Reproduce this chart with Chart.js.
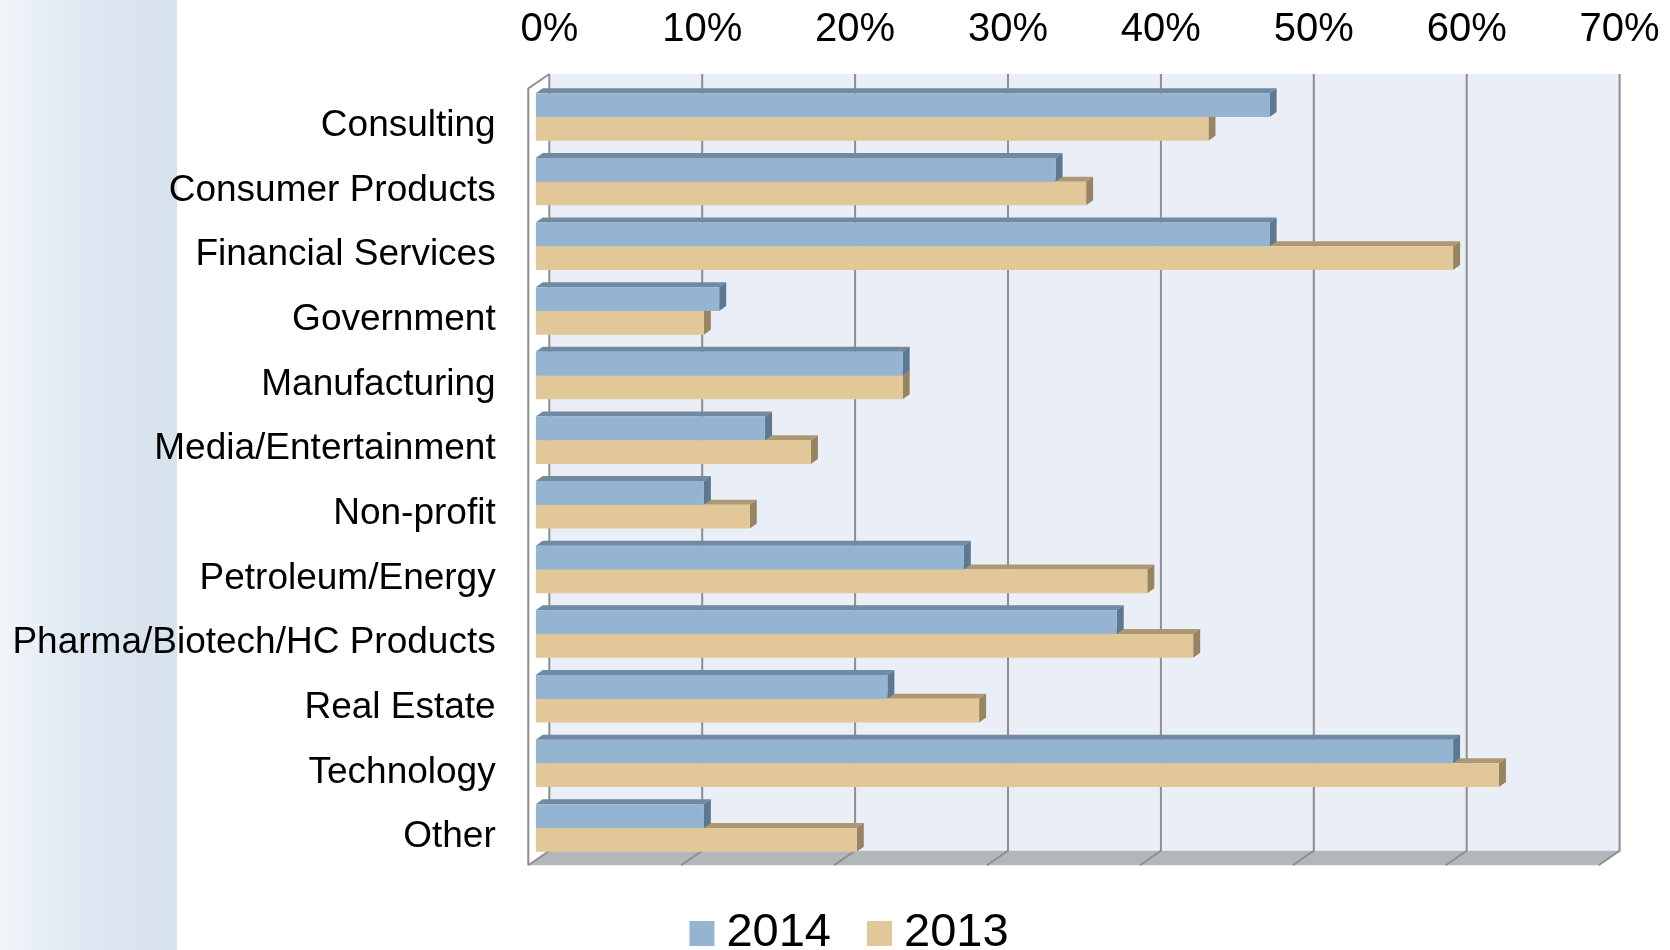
<!DOCTYPE html>
<html lang="en">
<head>
    <meta charset="UTF-8">
    <title>Industries 2014 vs 2013</title>
    <script src="https://cdn.jsdelivr.net/npm/chart.js"></script>
    <style>
        html, body {
            margin: 0;
            padding: 0;
            background: #ffffff;
            overflow: hidden;
        }
        .side-panel {
            position: absolute;
            left: 0;
            top: 0;
            width: 177px;
            height: 950px;
            background: linear-gradient(to right, #f1f5f9 0%, #dde7f1 50%, #d6e2ed 100%);
        }
        .wrap {
            position: relative;
            width: 1670px;
            height: 950px;
        }
    </style>
</head>
<body>
    <div class="side-panel"></div>
    <div class="wrap"><canvas id="industryChart"></canvas></div>

    <script>
        const industries = [
            'Consulting', 'Consumer Products', 'Financial Services', 'Government',
            'Manufacturing', 'Media/Entertainment', 'Non-profit', 'Petroleum/Energy',
            'Pharma/Biotech/HC Products', 'Real Estate', 'Technology', 'Other'
        ];
        const years = ['2014', '2013'];
        const share2014 = [48, 34, 48, 12, 24, 15, 11, 28, 38, 23, 60, 11];
        const share2013 = [44, 36, 60, 11, 24, 18, 14, 40, 43, 29, 63, 21];
        const axisMax = 70;
        const axisStep = 10;

        // front / top / side shades for the pseudo-3D bars
        const shades = [
            { front: '#94b4d2', top: '#7189a1', side: '#5f7892' },
            { front: '#e2c799', top: '#ae9873', side: '#978461' }
        ];

        // offsets from the bar plane to the back wall, the front edge and the bar depth
        const D = { backDx: 13.6, backDy: -9.5, frontDx: -7.4, frontDy: 5, barDx: 7, barDy: -5 };

        Chart.defaults.font.family = '"Liberation Sans", Arial, sans-serif';

        function poly(ctx, pts) {
            ctx.beginPath();
            ctx.moveTo(pts[0][0], pts[0][1]);
            for (let i = 1; i < pts.length; i++) ctx.lineTo(pts[i][0], pts[i][1]);
            ctx.closePath();
            ctx.fill();
        }

        const box3d = {
            id: 'box3d',
            beforeDatasetsDraw(chart) {
                const { ctx, chartArea: area, scales: { x } } = chart;
                const left = x.getPixelForValue(x.min);
                const right = x.getPixelForValue(x.max);
                const wallTop = area.top - 1.2;
                const backTop = wallTop + D.backDy, backBottom = area.bottom + D.backDy;
                const frontTop = wallTop + D.frontDy, frontBottom = area.bottom + D.frontDy;

                ctx.save();
                // back wall
                ctx.fillStyle = '#eaeff7';
                ctx.fillRect(left + D.backDx, backTop, right - left, backBottom - backTop);

                // floor
                ctx.fillStyle = '#b2b7bc';
                poly(ctx, [
                    [left + D.backDx, backBottom], [right + D.backDx, backBottom],
                    [right + D.frontDx, frontBottom], [left + D.frontDx, frontBottom]
                ]);

                // gridlines up the back wall and across the floor
                ctx.strokeStyle = '#8e8e8e';
                ctx.lineWidth = 2;
                x.ticks.forEach(t => {
                    const px = x.getPixelForValue(t.value);
                    ctx.beginPath();
                    ctx.moveTo(px + D.backDx, backTop);
                    ctx.lineTo(px + D.backDx, backBottom);
                    ctx.lineTo(px + D.frontDx, frontBottom);
                    ctx.stroke();
                });

                // left wall edge
                ctx.beginPath();
                ctx.moveTo(left + D.backDx, backTop);
                ctx.lineTo(left + D.frontDx, frontTop);
                ctx.lineTo(left + D.frontDx, frontBottom);
                ctx.stroke();

                // bar tops and ends, lower series first so the upper one covers it
                [1, 0].forEach(di => {
                    const c = shades[di];
                    chart.getDatasetMeta(di).data.forEach(bar => {
                        const { x: end, y, base, height } = bar.getProps(['x', 'y', 'base', 'height'], true);
                        const top = y - height / 2, bottom = y + height / 2;
                        ctx.fillStyle = c.top;
                        poly(ctx, [[base, top], [end, top], [end + D.barDx, top + D.barDy], [base + D.barDx, top + D.barDy]]);
                        ctx.fillStyle = c.side;
                        poly(ctx, [[end, top], [end + D.barDx, top + D.barDy], [end + D.barDx, bottom + D.barDy], [end, bottom]]);
                    });
                });
                ctx.restore();
            }
        };

        const bottomLegend = {
            id: 'bottomLegend',
            afterDraw(chart) {
                const { ctx } = chart;
                ctx.save();
                ctx.font = '47px "Liberation Sans", Arial, sans-serif';
                ctx.textBaseline = 'alphabetic';
                const box = 25, gapText = 12, gapItem = 36;
                const items = chart.data.datasets.map(ds => ({
                    label: ds.label, color: ds.backgroundColor, w: ctx.measureText(ds.label).width
                }));
                const total = items.reduce((s, it) => s + box + gapText + it.w, 0) + gapItem * (items.length - 1);
                let cx = chart.width / 2 + 14 - total / 2;
                const baseline = chart.height - 4;
                items.forEach(it => {
                    ctx.fillStyle = it.color;
                    ctx.fillRect(cx, baseline - box, box, box);
                    cx += box + gapText;
                    ctx.fillStyle = '#000';
                    ctx.fillText(it.label, cx, baseline);
                    cx += it.w + gapItem;
                });
                ctx.restore();
            }
        };

        new Chart(document.getElementById('industryChart'), {
            type: 'bar',
            data: {
                labels: industries,
                datasets: [
                    { label: years[0], data: share2014, backgroundColor: shades[0].front },
                    { label: years[1], data: share2013, backgroundColor: shades[1].front }
                ]
            },
            options: {
                indexAxis: 'y',
                responsive: true,
                maintainAspectRatio: false,
                animation: false,
                layout: { padding: { top: 0, left: 0, right: 64, bottom: 89.7 } },
                datasets: {
                    bar: { categoryPercentage: 0.734, barPercentage: 1, borderWidth: 0 }
                },
                plugins: {
                    legend: { display: false },
                    tooltip: { enabled: false }
                },
                scales: {
                    x: {
                        position: 'top',
                        min: 0,
                        max: axisMax,
                        grid: { display: false, drawTicks: false },
                        border: { display: false },
                        ticks: {
                            stepSize: axisStep,
                            callback: v => v + '%',
                            color: '#000',
                            // tall line height keeps the labels up top without ticks.padding,
                            // which would otherwise eat into the right margin
                            font: { size: 40, lineHeight: 2.745 },
                            padding: 0,
                            labelOffset: D.backDx,
                            maxRotation: 0,
                            autoSkip: false
                        },
                        afterFit: s => { s.height = 84.7; }
                    },
                    y: {
                        grid: { display: false, drawTicks: false },
                        border: { display: false },
                        ticks: {
                            color: '#000',
                            font: { size: 37 },
                            padding: 40,
                            labelOffset: 9,
                            autoSkip: false
                        },
                        afterFit: s => { s.width = 535.7; }
                    }
                }
            },
            plugins: [box3d, bottomLegend]
        });
    </script>
</body>
</html>
